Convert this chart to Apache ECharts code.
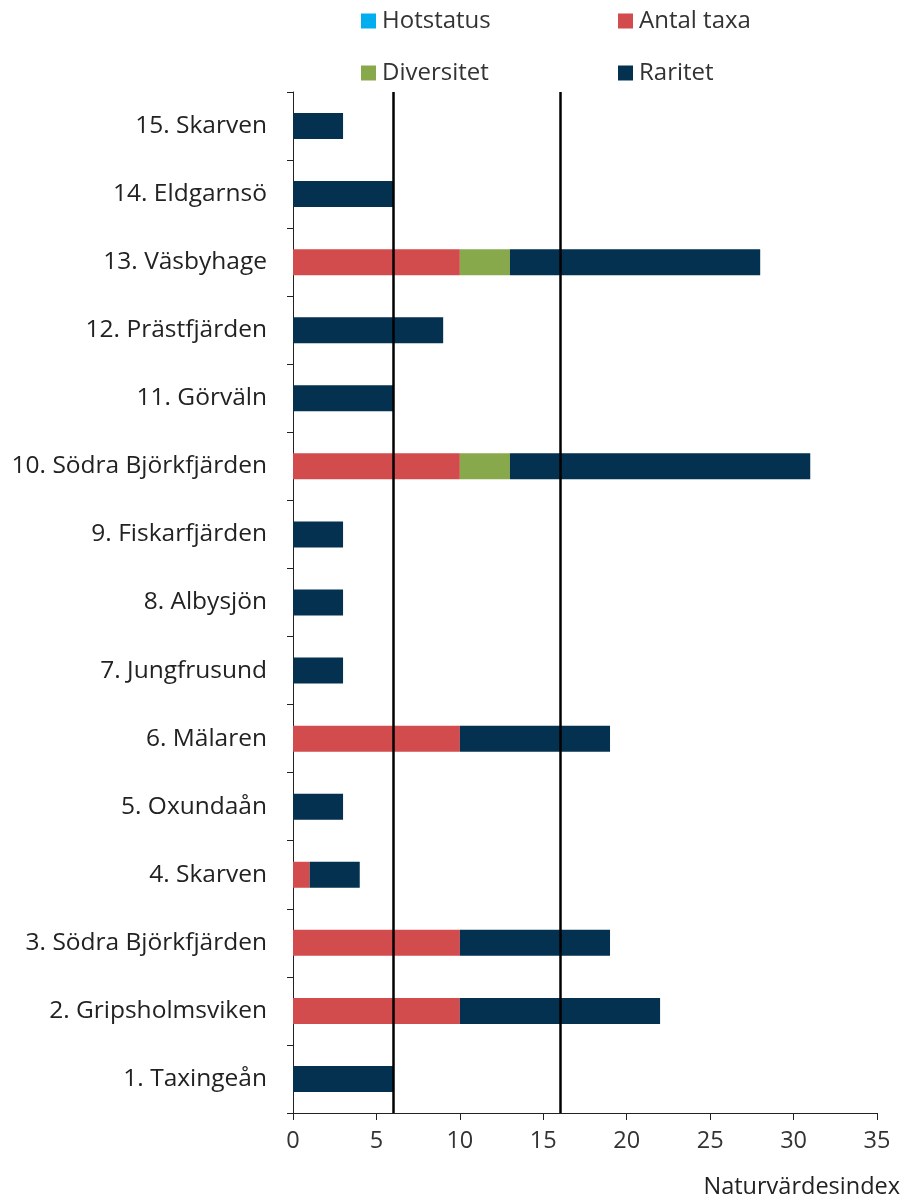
<!DOCTYPE html>
<html>
<head>
<meta charset="utf-8">
<script src="https://cdn.jsdelivr.net/npm/echarts@6/dist/echarts.min.js"></script>
<style>
  html, body { margin: 0; padding: 0; background: #fff; }
  #chart { width: 904px; height: 1201px; }
</style>
</head>
<body>
<div id="chart"></div>
<script>
// kategorier, nerifrån och upp
const lokaler = [
  '1. Taxingeån', '2. Gripsholmsviken', '3. Södra Björkfjärden', '4. Skarven',
  '5. Oxundaån', '6. Mälaren', '7. Jungfrusund', '8. Albysjön', '9. Fiskarfjärden',
  '10. Södra Björkfjärden', '11. Görväln', '12. Prästfjärden', '13. Väsbyhage',
  '14. Eldgarnsö', '15. Skarven'
]
const hotstatus = [0, 0, 0, 0, 0, 0, 0, 0, 0, 0, 0, 0, 0, 0, 0]
const antalTaxa = [0, 10, 10, 1, 0, 10, 0, 0, 0, 10, 0, 0, 10, 0, 0]
const diversitet = [0, 0, 0, 0, 0, 0, 0, 0, 0, 3, 0, 0, 3, 0, 0]
const raritet = [6, 12, 9, 3, 3, 9, 3, 3, 3, 18, 6, 9, 15, 6, 3]
const gransvarden = [6, 16]
const xTicks = [0, 35, 5]

const fontFam = '"Open Sans", "Noto Sans", sans-serif'
const chart = echarts.init(document.getElementById('chart'))

function legendItem(name, left, top) {
  return {
    data: [name],
    left: left,
    top: top,
    itemWidth: 15,
    itemHeight: 15,
    itemGap: 0,
    icon: 'rect',
    selectedMode: false,
    textStyle: { fontSize: 24, color: '#333', fontFamily: fontFam, padding: [0, 0, 0, 1] }
  }
}

function stackSeries(name, data, color) {
  return {
    name: name,
    type: 'bar',
    stack: 'total',
    barWidth: 26,
    itemStyle: { color: color },
    data: data
  }
}

const series = [
  stackSeries('Hotstatus', hotstatus, '#00AEEF'),
  stackSeries('Antal taxa', antalTaxa, '#D24B4D'),
  stackSeries('Diversitet', diversitet, '#87A84B'),
  stackSeries('Raritet', raritet, '#03314F')
]
series[3].markLine = {
  silent: true,
  symbol: 'none',
  label: { show: false },
  lineStyle: { color: '#000', width: 2.5, type: 'solid' },
  data: gransvarden.map(v => ({ xAxis: v }))
}

chart.setOption({
  animation: false,
  textStyle: { fontFamily: fontFam },
  legend: [
    legendItem('Hotstatus', 356, 4),
    legendItem('Antal taxa', 613, 4),
    legendItem('Diversitet', 356, 56),
    legendItem('Raritet', 613, 56)
  ],
  grid: { left: 293, right: 27, top: 92, bottom: 88 },
  xAxis: {
    type: 'value',
    min: xTicks[0],
    max: xTicks[1],
    interval: xTicks[2],
    name: 'Naturvärdesindex',
    nameLocation: 'end',
    nameGap: 23,
    nameTextStyle: {
      fontSize: 23.5, color: '#222', align: 'right', verticalAlign: 'top',
      padding: [62, 0, 0, 0]
    },
    splitLine: { show: false },
    axisLine: { show: true, lineStyle: { color: '#222', width: 1 } },
    axisTick: { show: true, length: 7, lineStyle: { color: '#222' } },
    axisLabel: { fontSize: 23.5, color: '#333', margin: 16 }
  },
  yAxis: {
    type: 'category',
    data: lokaler,
    axisLine: { show: true, lineStyle: { color: '#222', width: 1 } },
    axisTick: { show: true, length: 6, lineStyle: { color: '#222' } },
    axisLabel: { fontSize: 24.5, color: '#222', margin: 26 }
  },
  series: series
})
</script>
</body>
</html>
